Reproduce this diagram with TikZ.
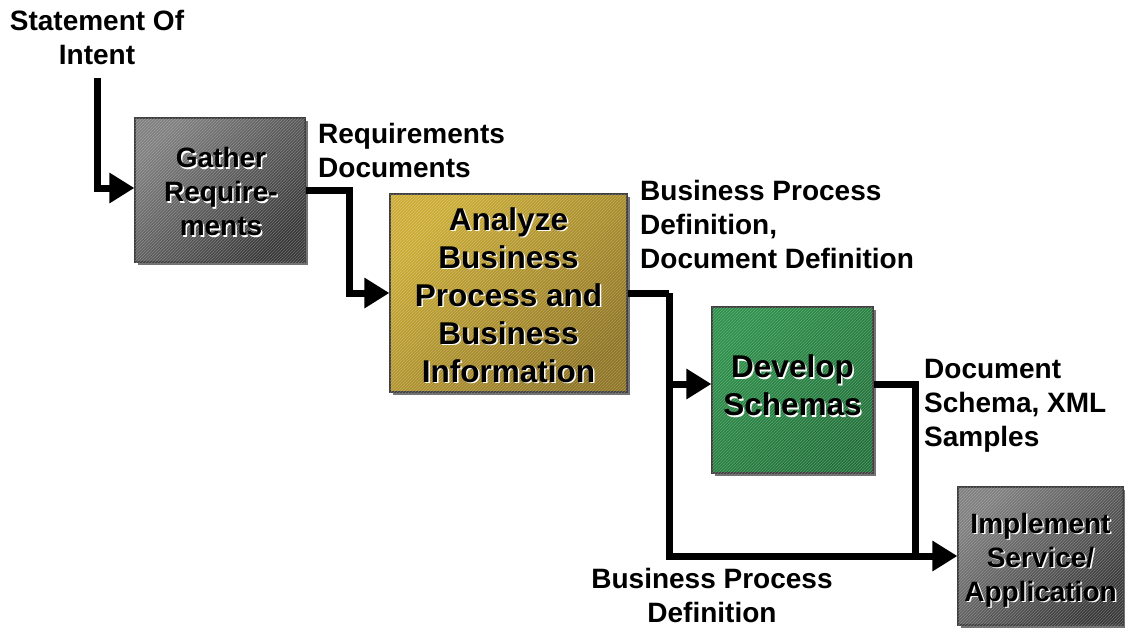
\documentclass[tikz,border=0pt]{standalone}
\usepackage{fontspec}
\setmainfont{Liberation Sans}
\usetikzlibrary{arrows.meta,shadows,patterns}

% Box fill colours: corner, centre and far corner of each diagonal shading
\definecolor{grayA}{HTML}{7E7E7E}
\definecolor{grayB}{HTML}{B4B4B4}
\definecolor{grayC}{HTML}{383838}
\definecolor{goldA}{HTML}{CCAC34}
\definecolor{goldB}{HTML}{F0D04C}
\definecolor{goldC}{HTML}{8E7422}
\definecolor{greenA}{HTML}{2C9049}
\definecolor{greenB}{HTML}{38BC5C}
\definecolor{greenC}{HTML}{207038}

\begin{document}
\begin{tikzpicture}[x=1pt,y=-1pt,
  lbl/.style={font=\fontsize{28}{34}\selectfont\bfseries, inner sep=0pt,
    align=left, anchor=north west},
  stepbox/.style={rectangle, draw=black!75, line width=1.2pt, inner sep=0pt,
    drop shadow={shadow xshift=3pt, shadow yshift=-3pt, fill=black, opacity=0.55}},
  graybox/.style={stepbox, top color=grayA, middle color=grayB, bottom color=grayC, shading angle=45},
  goldbox/.style={stepbox, top color=goldA, middle color=goldB, bottom color=goldC, shading angle=45},
  greenbox/.style={stepbox, top color=greenA, middle color=greenB, bottom color=greenC, shading angle=45},
  hatch/.style={pattern=north east lines, pattern color=white, opacity=0.28},
  smalltxt/.style={font=\fontsize{28}{34}\selectfont\bfseries, align=center, inner sep=0pt},
  bigtxt/.style={font=\fontsize{31.5}{38}\selectfont\bfseries, align=center, inner sep=0pt},
  conn/.style={line width=7pt, black, line join=miter},
  tip/.style={-{Triangle[length=25pt,width=29pt]}}
]
\useasboundingbox (0,0) rectangle (1125,630);

% ---- process steps ----
\node[graybox, minimum width=170pt, minimum height=144pt] (gather) at (220,190) {};
\node[goldbox, minimum width=237pt, minimum height=198pt] (analyze) at (508.5,293) {};
\node[greenbox, minimum width=161pt, minimum height=166pt] (develop) at (792.5,390) {};
\node[graybox, minimum width=165pt, minimum height=138pt] (implement) at (1040.5,556) {};

% fine diagonal texture on the boxes
\foreach \b in {gather,analyze,develop,implement}
  \fill[hatch] ([xshift=0.6pt,yshift=0.6pt]\b.south west) rectangle ([xshift=-0.6pt,yshift=-0.6pt]\b.north east);

% ---- embossed box captions: white offset copy under black text ----
\node[smalltxt, white] (gatherS) at (222.5,193) {Gather\\Require-\\ments};
\node[smalltxt] (gatherT) at (221,191.5) {Gather\\Require-\\ments};
\node[bigtxt, white] (analyzeS) at (510,296.5) {Analyze\\Business\\Process and\\Business\\Information};
\node[bigtxt] (analyzeT) at (508.5,295) {Analyze\\Business\\Process and\\Business\\Information};
\node[bigtxt, white] (developS) at (794,387) {Develop\\Schemas};
\node[bigtxt] (developT) at (792.5,385.5) {Develop\\Schemas};
\node[smalltxt, white] (implementS) at (1042,561.5) {Implement\\Service/\\Application};
\node[smalltxt] (implementT) at (1040.5,560) {Implement\\Service/\\Application};

% ---- flow labels ----
\node[lbl, align=center, anchor=north] (intent) at (97,10) {Statement Of\\Intent};
\node[lbl] (reqdocs) at (318,123) {Requirements\\Documents};
\node[lbl] (bpdefs) at (640,180) {Business Process\\Definition,\\Document Definition};
\node[lbl] (schemas) at (924,359) {Document\\Schema, XML\\Samples};
\node[lbl, align=center, anchor=north] (bpdef) at (712,568) {Business Process\\Definition};

% ---- connectors ----
\coordinate (intentEnd) at (97,78);
\coordinate (splitA) at (669,293);
\coordinate (mergeD) at (915,558);

\draw[conn, tip] (intentEnd) |- ([yshift=2pt]gather.west);
\draw[conn, tip] (gather.east) -- ++(44,0) |- (analyze.west);
\draw[conn] (analyze.east) -- (splitA);
\draw[conn, tip] (splitA) |- ([yshift=6pt]develop.west);
\draw[conn, tip] (splitA) |- (implement.west);
\draw[conn] ([yshift=6pt]develop.east) -| (mergeD);
\end{tikzpicture}
\end{document}
